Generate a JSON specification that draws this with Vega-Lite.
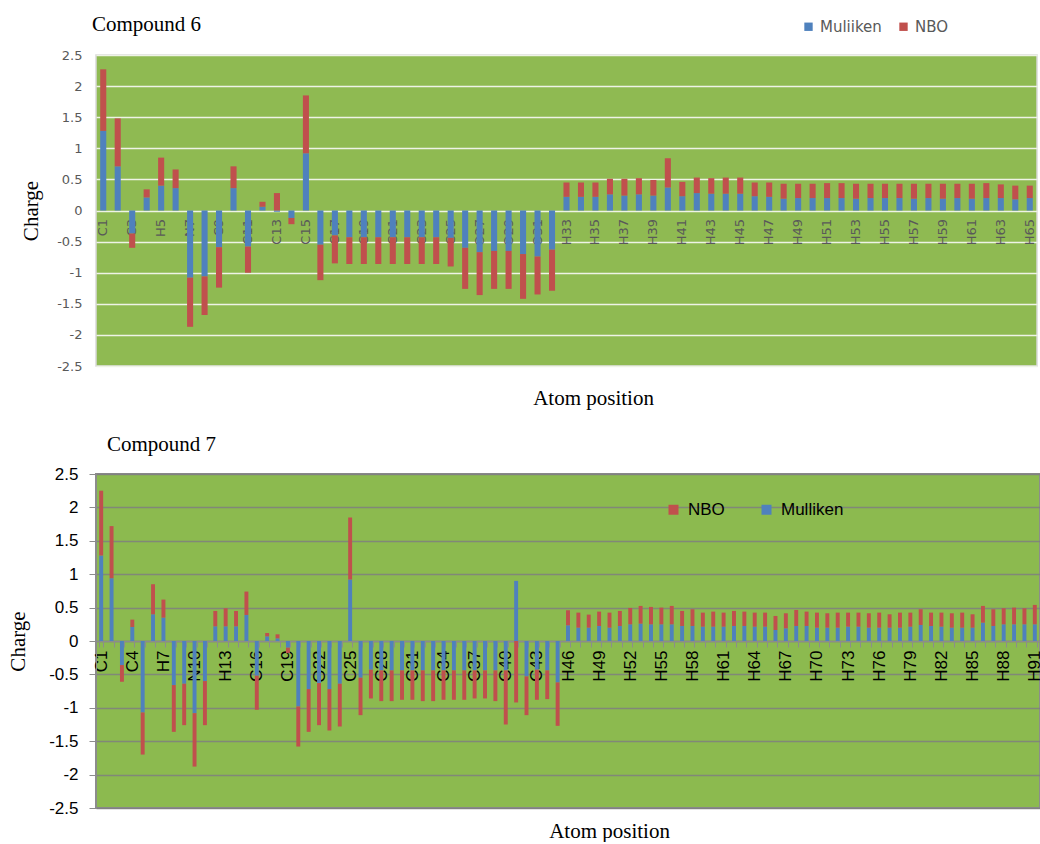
{
"$schema": "https://vega.github.io/schema/vega-lite/v6.json",
"padding": {"left": 6, "top": 13, "right": 0, "bottom": 0},
"background": "white",
"columns": 1,
"spacing": 23,
"resolve": {"scale": {"x": "independent", "y": "independent", "color": "independent"}},
"datasets": {
"c6": [
{"a":"C1","Muliiken":1.28,"NBO":0.99},{"a":"C2","Muliiken":0.71,"NBO":0.77},{"a":"C3","Muliiken":-0.37,"NBO":-0.23},{"a":"H4","Muliiken":0.21,"NBO":0.13},{"a":"H5","Muliiken":0.40,"NBO":0.45},
{"a":"H6","Muliiken":0.36,"NBO":0.30},{"a":"N7","Muliiken":-1.08,"NBO":-0.79},{"a":"N8","Muliiken":-1.06,"NBO":-0.62},{"a":"C9","Muliiken":-0.59,"NBO":-0.65},{"a":"H10","Muliiken":0.36,"NBO":0.35},
{"a":"C11","Muliiken":-0.58,"NBO":-0.42},{"a":"H12","Muliiken":0.06,"NBO":0.08},{"a":"C13","Muliiken":-0.02,"NBO":0.28},{"a":"C14","Muliiken":-0.12,"NBO":-0.10},{"a":"C15","Muliiken":0.92,"NBO":0.93},
{"a":"C16","Muliiken":-0.55,"NBO":-0.57},{"a":"C17","Muliiken":-0.40,"NBO":-0.45},{"a":"C18","Muliiken":-0.43,"NBO":-0.43},{"a":"C19","Muliiken":-0.43,"NBO":-0.43},{"a":"C20","Muliiken":-0.43,"NBO":-0.43},
{"a":"C21","Muliiken":-0.43,"NBO":-0.43},{"a":"C22","Muliiken":-0.43,"NBO":-0.43},{"a":"C23","Muliiken":-0.43,"NBO":-0.43},{"a":"C24","Muliiken":-0.43,"NBO":-0.43},{"a":"C25","Muliiken":-0.44,"NBO":-0.46},
{"a":"O26","Muliiken":-0.60,"NBO":-0.66},{"a":"O27","Muliiken":-0.67,"NBO":-0.69},{"a":"O28","Muliiken":-0.65,"NBO":-0.61},{"a":"O29","Muliiken":-0.65,"NBO":-0.61},{"a":"O30","Muliiken":-0.70,"NBO":-0.72},
{"a":"O31","Muliiken":-0.74,"NBO":-0.61},{"a":"O32","Muliiken":-0.63,"NBO":-0.66},{"a":"H33","Muliiken":0.22,"NBO":0.23},{"a":"H34","Muliiken":0.22,"NBO":0.23},{"a":"H35","Muliiken":0.22,"NBO":0.23},
{"a":"H36","Muliiken":0.26,"NBO":0.25},{"a":"H37","Muliiken":0.24,"NBO":0.27},{"a":"H38","Muliiken":0.26,"NBO":0.26},{"a":"H39","Muliiken":0.24,"NBO":0.25},{"a":"H40","Muliiken":0.37,"NBO":0.47},
{"a":"H41","Muliiken":0.23,"NBO":0.23},{"a":"H42","Muliiken":0.28,"NBO":0.25},{"a":"H43","Muliiken":0.27,"NBO":0.25},{"a":"H44","Muliiken":0.27,"NBO":0.26},{"a":"H45","Muliiken":0.27,"NBO":0.26},
{"a":"H46","Muliiken":0.23,"NBO":0.22},{"a":"H47","Muliiken":0.22,"NBO":0.23},{"a":"H48","Muliiken":0.19,"NBO":0.24},{"a":"H49","Muliiken":0.20,"NBO":0.23},{"a":"H50","Muliiken":0.20,"NBO":0.23},
{"a":"H51","Muliiken":0.20,"NBO":0.24},{"a":"H52","Muliiken":0.20,"NBO":0.24},{"a":"H53","Muliiken":0.19,"NBO":0.24},{"a":"H54","Muliiken":0.20,"NBO":0.23},{"a":"H55","Muliiken":0.20,"NBO":0.23},
{"a":"H56","Muliiken":0.20,"NBO":0.23},{"a":"H57","Muliiken":0.19,"NBO":0.24},{"a":"H58","Muliiken":0.20,"NBO":0.23},{"a":"H59","Muliiken":0.19,"NBO":0.24},{"a":"H60","Muliiken":0.20,"NBO":0.23},
{"a":"H61","Muliiken":0.19,"NBO":0.24},{"a":"H62","Muliiken":0.20,"NBO":0.24},{"a":"H63","Muliiken":0.20,"NBO":0.22},{"a":"H64","Muliiken":0.18,"NBO":0.22},{"a":"H65","Muliiken":0.20,"NBO":0.20}
],
"c7": [
{"a":"C1","Mulliken":1.28,"NBO":0.97},{"a":"C2","Mulliken":0.94,"NBO":0.78},{"a":"C3","Mulliken":-0.36,"NBO":-0.25},{"a":"C4","Mulliken":0.21,"NBO":0.11},{"a":"N5","Mulliken":-1.07,"NBO":-0.63},
{"a":"H6","Mulliken":0.40,"NBO":0.45},{"a":"H7","Mulliken":0.35,"NBO":0.27},{"a":"O8","Mulliken":-0.66,"NBO":-0.70},{"a":"O9","Mulliken":-0.64,"NBO":-0.62},{"a":"N10","Mulliken":-1.08,"NBO":-0.80},
{"a":"O11","Mulliken":-0.60,"NBO":-0.66},{"a":"H12","Mulliken":0.22,"NBO":0.23},{"a":"H13","Mulliken":0.22,"NBO":0.27},{"a":"H14","Mulliken":0.22,"NBO":0.23},{"a":"H15","Mulliken":0.39,"NBO":0.35},
{"a":"C16","Mulliken":-0.52,"NBO":-0.51},{"a":"H17","Mulliken":0.07,"NBO":0.05},{"a":"H18","Mulliken":0.04,"NBO":0.06},{"a":"C19","Mulliken":-0.10,"NBO":-0.08},{"a":"N20","Mulliken":-0.98,"NBO":-0.60},
{"a":"O21","Mulliken":-0.72,"NBO":-0.64},{"a":"O22","Mulliken":-0.63,"NBO":-0.63},{"a":"O23","Mulliken":-0.72,"NBO":-0.62},{"a":"O24","Mulliken":-0.64,"NBO":-0.64},{"a":"C25","Mulliken":0.92,"NBO":0.93},
{"a":"C26","Mulliken":-0.55,"NBO":-0.56},{"a":"C27","Mulliken":-0.43,"NBO":-0.43},{"a":"C28","Mulliken":-0.44,"NBO":-0.46},{"a":"C29","Mulliken":-0.44,"NBO":-0.46},{"a":"C30","Mulliken":-0.44,"NBO":-0.44},
{"a":"C31","Mulliken":-0.44,"NBO":-0.44},{"a":"C32","Mulliken":-0.44,"NBO":-0.46},{"a":"C33","Mulliken":-0.44,"NBO":-0.46},{"a":"C34","Mulliken":-0.44,"NBO":-0.44},{"a":"C35","Mulliken":-0.44,"NBO":-0.44},
{"a":"C36","Mulliken":-0.44,"NBO":-0.44},{"a":"C37","Mulliken":-0.44,"NBO":-0.42},{"a":"C38","Mulliken":-0.44,"NBO":-0.42},{"a":"C39","Mulliken":-0.44,"NBO":-0.46},{"a":"C40","Mulliken":-0.44,"NBO":-0.81},
{"a":"C41","Mulliken":0.90,"NBO":-0.92},{"a":"C42","Mulliken":-0.53,"NBO":-0.58},{"a":"C43","Mulliken":-0.43,"NBO":-0.45},{"a":"C44","Mulliken":-0.44,"NBO":-0.43},{"a":"N45","Mulliken":-0.62,"NBO":-0.65},
{"a":"H46","Mulliken":0.235,"NBO":0.225},{"a":"H47","Mulliken":0.20,"NBO":0.225},{"a":"H48","Mulliken":0.20,"NBO":0.195},{"a":"H49","Mulliken":0.225,"NBO":0.215},{"a":"H50","Mulliken":0.20,"NBO":0.225},
{"a":"H51","Mulliken":0.225,"NBO":0.225},{"a":"H52","Mulliken":0.25,"NBO":0.245},{"a":"H53","Mulliken":0.26,"NBO":0.265},{"a":"H54","Mulliken":0.25,"NBO":0.26},{"a":"H55","Mulliken":0.25,"NBO":0.25},
{"a":"H56","Mulliken":0.25,"NBO":0.275},{"a":"H57","Mulliken":0.225,"NBO":0.225},{"a":"H58","Mulliken":0.225,"NBO":0.25},{"a":"H59","Mulliken":0.215,"NBO":0.21},{"a":"H60","Mulliken":0.215,"NBO":0.225},
{"a":"H61","Mulliken":0.215,"NBO":0.21},{"a":"H62","Mulliken":0.225,"NBO":0.225},{"a":"H63","Mulliken":0.225,"NBO":0.215},{"a":"H64","Mulliken":0.215,"NBO":0.21},{"a":"H65","Mulliken":0.215,"NBO":0.21},
{"a":"H66","Mulliken":0.165,"NBO":0.21},{"a":"H67","Mulliken":0.19,"NBO":0.225},{"a":"H68","Mulliken":0.225,"NBO":0.24},{"a":"H69","Mulliken":0.225,"NBO":0.215},{"a":"H70","Mulliken":0.20,"NBO":0.225},
{"a":"H71","Mulliken":0.20,"NBO":0.215},{"a":"H72","Mulliken":0.20,"NBO":0.225},{"a":"H73","Mulliken":0.215,"NBO":0.21},{"a":"H74","Mulliken":0.215,"NBO":0.21},{"a":"H75","Mulliken":0.20,"NBO":0.215},
{"a":"H76","Mulliken":0.20,"NBO":0.225},{"a":"H77","Mulliken":0.20,"NBO":0.20},{"a":"H78","Mulliken":0.20,"NBO":0.225},{"a":"H79","Mulliken":0.215,"NBO":0.21},{"a":"H80","Mulliken":0.24,"NBO":0.235},
{"a":"H81","Mulliken":0.225,"NBO":0.20},{"a":"H82","Mulliken":0.215,"NBO":0.21},{"a":"H83","Mulliken":0.20,"NBO":0.215},{"a":"H84","Mulliken":0.20,"NBO":0.225},{"a":"H85","Mulliken":0.20,"NBO":0.20},
{"a":"H86","Mulliken":0.275,"NBO":0.25},{"a":"H87","Mulliken":0.225,"NBO":0.25},{"a":"H88","Mulliken":0.25,"NBO":0.24},{"a":"H89","Mulliken":0.25,"NBO":0.25},{"a":"H90","Mulliken":0.25,"NBO":0.24},
{"a":"H91","Mulliken":0.25,"NBO":0.29}
]
},
"concat": [
{
"width": 941, "height": 311,
"view": {"fill": "#8fba52", "stroke": "#d9d9d9", "strokeWidth": 1.5},
"title": {"text": "Compound 6", "anchor": "start", "frame": "group", "font": "Liberation Serif", "fontSize": 21, "fontWeight": "normal", "color": "#000000", "dx": -4, "offset": -16},
"data": {"name": "c6"},
"transform": [{"fold": ["Muliiken", "NBO"], "as": ["series", "v"]}],
"mark": {"type": "bar"},
"encoding": {
"x": {"field": "a", "type": "nominal", "sort": null, "scale": {"paddingInner": 0.58, "paddingOuter": 0.29},
"axis": {"title": "Atom position", "offset": -155.5, "domain": false, "ticks": false, "grid": false, "labelAngle": -90, "labelPadding": 8, "labelFont": "DejaVu Sans", "labelFontSize": 13, "labelColor": "#595959", "labelOverlap": false,
"labelExpr": "toNumber(substring(datum.value, 1)) % 2 == 1 ? datum.value : ''",
"titleFont": "Liberation Serif", "titleFontSize": 21, "titleFontWeight": "normal", "titleColor": "#000000", "titleX": 497, "titleY": 194, "titleBaseline": "alphabetic", "titleAlign": "center", "titleAngle": 0}},
"y": {"field": "v", "type": "quantitative", "stack": "zero", "scale": {"domain": [-2.5, 2.5], "nice": false, "zero": false},
"axis": {"values": [-2.5, -2, -1.5, -1, -0.5, 0, 0.5, 1, 1.5, 2, 2.5], "labelExpr": "toString(datum.value)", "domain": false, "ticks": false, "labelPadding": 14, "labelFont": "DejaVu Sans", "labelFontSize": 13, "labelColor": "#595959", "gridColor": "#eef3e6", "gridWidth": 1.5,
"title": "Charge", "titleFont": "Liberation Serif", "titleFontSize": 21, "titleFontWeight": "normal", "titleColor": "#000000", "titlePadding": 15}},
"color": {"field": "series", "type": "nominal", "scale": {"domain": ["Muliiken", "NBO"], "range": ["#4f81bd", "#c0504d"]},
"legend": {"orient": "none", "legendX": 705, "legendY": -36, "direction": "horizontal", "title": null, "symbolType": "square", "symbolSize": 70, "symbolStrokeWidth": 0, "labelFont": "DejaVu Sans", "labelFontSize": 15, "labelColor": "#595959", "columnPadding": 14, "labelOffset": 4}},
"order": {"field": "series", "sort": "ascending"}
}
},
{
"width": 944, "height": 334,
"view": {"fill": "#8cba4f", "stroke": "#8c8c8c", "strokeWidth": 2},
"title": {"text": "Compound 7", "anchor": "start", "frame": "group", "font": "Liberation Serif", "fontSize": 21, "fontWeight": "normal", "color": "#000000", "dx": 11, "offset": 10},
"data": {"name": "c7"},
"transform": [{"fold": ["Mulliken", "NBO"], "as": ["series", "v"]}],
"mark": {"type": "bar"},
"encoding": {
"x": {"field": "a", "type": "nominal", "sort": null, "scale": {"paddingInner": 0.62, "paddingOuter": 0.31},
"axis": {"title": "Atom position", "offset": -167, "domain": true, "domainColor": "#8c8c8c", "domainWidth": 1.5, "ticks": true, "tickBand": "extent", "tickSize": 6, "tickColor": "#8c8c8c", "grid": false, "labelAngle": -90, "labelPadding": 3, "labelFont": "Liberation Sans", "labelFontSize": 17, "labelColor": "#000000", "labelOverlap": false,
"labelExpr": "(toNumber(substring(datum.value, 1)) - 1) % 3 == 0 ? datum.value : ''",
"titleFont": "Liberation Serif", "titleFontSize": 21, "titleFontWeight": "normal", "titleColor": "#000000", "titleX": 513, "titleY": 196, "titleBaseline": "alphabetic", "titleAlign": "center", "titleAngle": 0}},
"y": {"field": "v", "type": "quantitative", "stack": "zero", "scale": {"domain": [-2.5, 2.5], "nice": false, "zero": false},
"axis": {"values": [-2.5, -2, -1.5, -1, -0.5, 0, 0.5, 1, 1.5, 2, 2.5], "labelExpr": "toString(datum.value)", "domain": true, "domainColor": "#8c8c8c", "ticks": true, "tickSize": 7, "tickColor": "#8c8c8c", "labelPadding": 11, "labelFont": "Liberation Sans", "labelFontSize": 17, "labelColor": "#000000", "gridColor": "#7f7f7f", "gridOpacity": 0.85, "gridWidth": 1.5,
"title": "Charge", "titleFont": "Liberation Serif", "titleFontSize": 21, "titleFontWeight": "normal", "titleColor": "#000000", "titlePadding": 20}},
"color": {"field": "series", "type": "nominal", "scale": {"domain": ["NBO", "Mulliken"], "range": ["#c0504d", "#4f81bd"]},
"legend": {"orient": "none", "legendX": 569, "legendY": 27, "direction": "horizontal", "title": null, "symbolType": "square", "symbolSize": 100, "symbolStrokeWidth": 0, "labelFont": "Liberation Sans", "labelFontSize": 17, "labelColor": "#000000", "columnPadding": 33, "labelOffset": 6}},
"order": {"field": "series", "sort": "ascending"}
}
}
]
}
